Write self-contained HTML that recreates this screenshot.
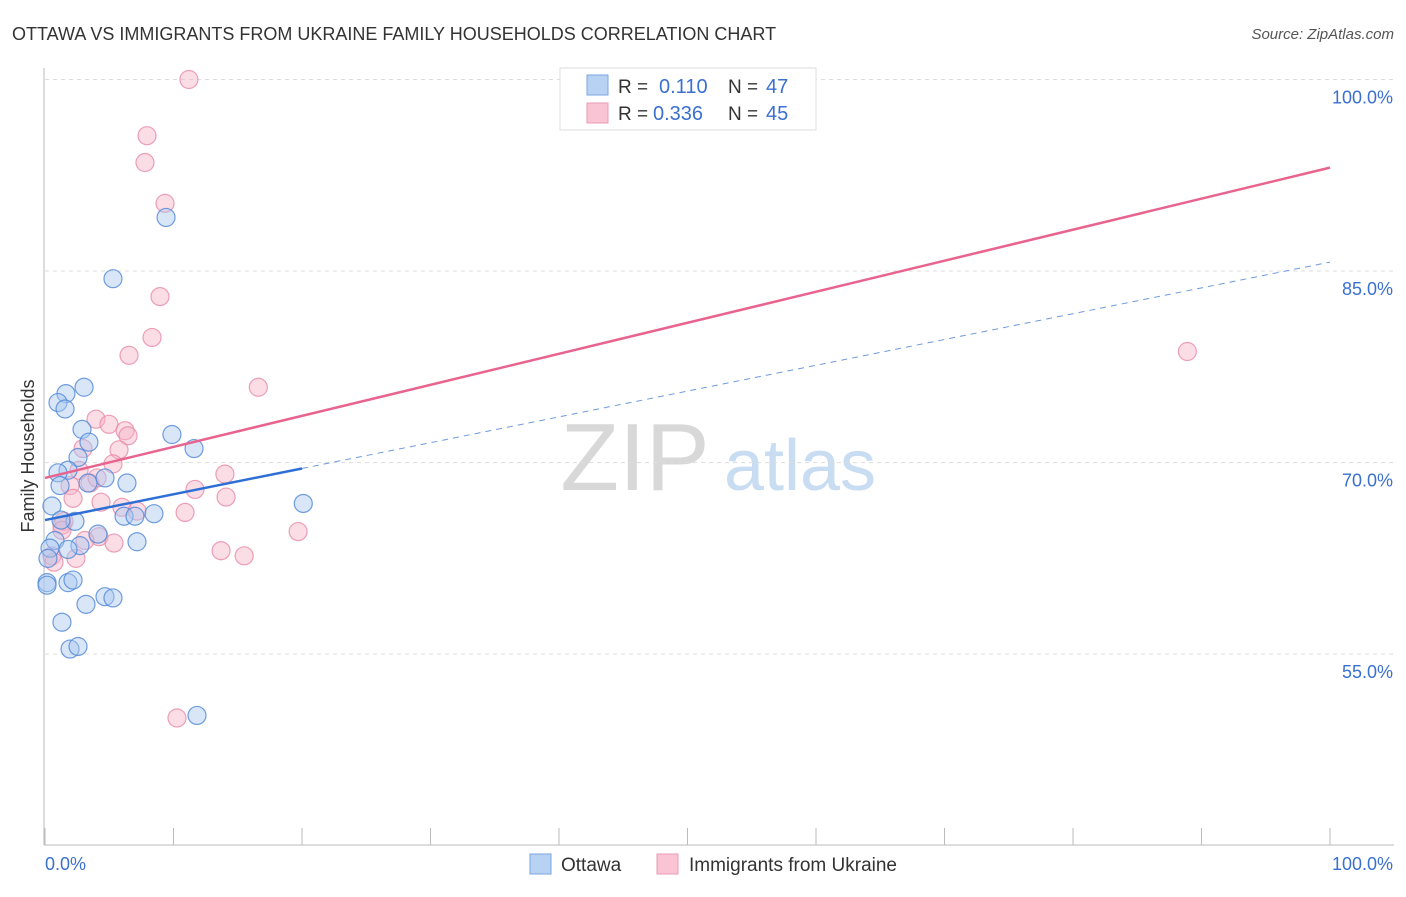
<!DOCTYPE html>
<html><head><meta charset="utf-8"><style>
body{margin:0;background:#fff;font-family:"Liberation Sans",sans-serif}
svg text{font-family:"Liberation Sans",sans-serif}
</style></head><body>
<svg id="chart" width="1406" height="892" xmlns="http://www.w3.org/2000/svg">
<text x="12" y="40" font-size="18" fill="#333">OTTAWA VS IMMIGRANTS FROM UKRAINE FAMILY HOUSEHOLDS CORRELATION CHART</text>
<text x="1394" y="39" font-size="15" fill="#555" font-style="italic" text-anchor="end">Source: ZipAtlas.com</text>
<g>
<text x="635" y="490" font-size="96" font-family="Liberation Serif,serif" fill="#d8d8d8" text-anchor="middle">ZIP</text>
<text x="800" y="490" font-size="72" fill="#c8dcf2" text-anchor="middle">atlas</text>
</g>
<g id="grid"></g>
<g id="axes"></g>
<g id="marks"></g>
<text transform="translate(34,456) rotate(-90)" font-size="18" fill="#333" text-anchor="middle">Family Households</text>
<g>
<rect x="560" y="68" width="256" height="62" fill="#fff" stroke="#ddd"/>
<rect x="587" y="75" width="21" height="20" fill="#b8d2f4" stroke="#7aa6e0"/>
<text x="618" y="93" font-size="19" fill="#333">R = </text><text x="659" y="93" font-size="20" fill="#3a70d0">0.110</text>
<text x="728" y="93" font-size="19" fill="#333">N = </text><text x="766" y="93" font-size="20" fill="#3a70d0">47</text>
<rect x="587" y="103" width="21" height="20" fill="#f9c4d4" stroke="#eb9ab4"/>
<text x="618" y="120" font-size="19" fill="#333">R = </text><text x="653" y="120" font-size="20" fill="#3a70d0">0.336</text>
<text x="728" y="120" font-size="19" fill="#333">N = </text><text x="766" y="120" font-size="20" fill="#3a70d0">45</text>
</g>
<g>
<rect x="530" y="854" width="21" height="20" fill="#b8d2f4" stroke="#7aa6e0"/>
<text x="561" y="871" font-size="19" fill="#333">Ottawa</text>
<rect x="657" y="854" width="21" height="20" fill="#f9c4d4" stroke="#eb9ab4"/>
<text x="689" y="871" font-size="19" fill="#333">Immigrants from Ukraine</text>
</g>
</svg>
<script>
const yTicks=[55,70,85,100];
const yTickLabels=["55.0%","70.0%","85.0%","100.0%"];
const xTickLabels=["0.0%","100.0%"];
const ottawaX=[9.42,5.29,3.04,1.63,1.01,1.56,2.88,3.42,9.88,11.6,2.57,1.79,1.01,3.35,1.17,4.67,6.38,20.1,0.54,6.15,7.0,8.48,2.33,1.25,4.12,0.78,7.16,2.72,1.79,0.39,0.23,1.79,2.18,0.16,0.16,3.19,4.67,5.29,1.32,1.95,2.57,11.83];
const ottawaY=[89.2,84.4,75.9,75.4,74.7,74.2,72.6,71.6,72.2,71.1,70.4,69.4,69.2,68.4,68.2,68.8,68.4,66.8,66.6,65.8,65.8,66.0,65.4,65.5,64.4,63.9,63.8,63.5,63.2,63.3,62.5,60.6,60.8,60.6,60.4,58.9,59.5,59.4,57.5,55.4,55.6,50.2];
const ukraineX=[11.2,7.94,7.78,9.34,8.95,8.33,6.54,16.6,3.97,4.98,6.23,6.46,5.76,5.29,2.96,2.65,1.95,3.5,14.0,11.67,14.09,2.18,4.36,10.9,1.48,1.32,5.99,7.16,19.7,4.2,5.37,3.11,13.7,15.5,2.41,0.54,0.7,10.27,88.9,4.05,1.32];
const ukraineY=[100.0,95.6,93.5,90.3,83.0,79.8,78.4,75.9,73.4,73.0,72.5,72.1,71.0,69.9,71.1,69.4,68.2,68.4,69.1,67.9,67.3,67.2,66.9,66.1,65.4,65.1,66.5,66.2,64.6,64.2,63.7,63.9,63.1,62.7,62.5,62.7,62.2,50.0,78.7,68.8,64.7];
const ottawaTrend=[65.5,85.7];
const ukraineTrend=[68.8,93.1];
const ottawaSolidEnd=20;
const NS="http://www.w3.org/2000/svg";
const X0=45,X1=1330,Y100=79.5,PPU=12.77;
function sx(v){return X0+(X1-X0)*v/100;}
function sy(v){return Y100+(100-v)*PPU;}
function mk(tag,attrs,parent){const e=document.createElementNS(NS,tag);for(const k in attrs)e.setAttribute(k,attrs[k]);parent.appendChild(e);return e;}
const grid=document.getElementById('grid'),axes=document.getElementById('axes'),marks=document.getElementById('marks');
yTicks.forEach((t,i)=>{
 const l=mk('line',{x1:45,x2:1394,y1:sy(t),y2:sy(t),stroke:'#ddd','stroke-dasharray':'4,4'},grid);
 
 
 const tx=mk('text',{x:1393,y:sy(t)+24,'font-size':18,fill:'#3a70d0','text-anchor':'end'},axes);
 tx.textContent=yTickLabels[i];
 
 
});
const ax=mk('line',{x1:44,x2:44,y1:68,y2:845,stroke:'#bbb'},axes);


const bx=mk('line',{x1:44,x2:1394,y1:845,y2:845,stroke:'#bbb'},axes);


for(let i=0;i<=10;i++){
 const tk=mk('line',{x1:sx(i*10),x2:sx(i*10),y1:828,y2:845,stroke:'#bbb'},axes);
 
 
}
const xl0=mk('text',{x:45,y:870,'font-size':18,fill:'#3a70d0'},axes);xl0.textContent=xTickLabels[0];


const xl1=mk('text',{x:1393,y:870,'font-size':18,fill:'#3a70d0','text-anchor':'end'},axes);xl1.textContent=xTickLabels[1];


function pts(xs,ys,fill,stroke,name){
 xs.forEach((x,i)=>{
  const c=mk('circle',{cx:sx(x),cy:sy(ys[i]),r:9,fill:fill,'fill-opacity':0.45,stroke:stroke,'stroke-opacity':0.8,'stroke-width':1.2},marks);
  
  
 });
}
pts(ukraineX,ukraineY,'#f6b3c8','#e88aa8','ukraine-point');
pts(ottawaX,ottawaY,'#a9c8f0','#4f86d6','ottawa-point');
function ty(tr,x){return tr[0]+(tr[1]-tr[0])*x/100;}
const pl=mk('line',{x1:sx(0),y1:sy(ty(ukraineTrend,0)),x2:sx(100),y2:sy(ty(ukraineTrend,100)),stroke:'#e8648e','stroke-width':2.5},marks);


const bl=mk('line',{x1:sx(0),y1:sy(ty(ottawaTrend,0)),x2:sx(ottawaSolidEnd),y2:sy(ty(ottawaTrend,ottawaSolidEnd)),stroke:'#2e6fd6','stroke-width':2.5},marks);


const bd=mk('line',{x1:sx(ottawaSolidEnd),y1:sy(ty(ottawaTrend,ottawaSolidEnd)),x2:sx(100),y2:sy(ty(ottawaTrend,100)),stroke:'#6f9ade','stroke-width':1,'stroke-dasharray':'6,5'},marks);


</script>
</body></html>
